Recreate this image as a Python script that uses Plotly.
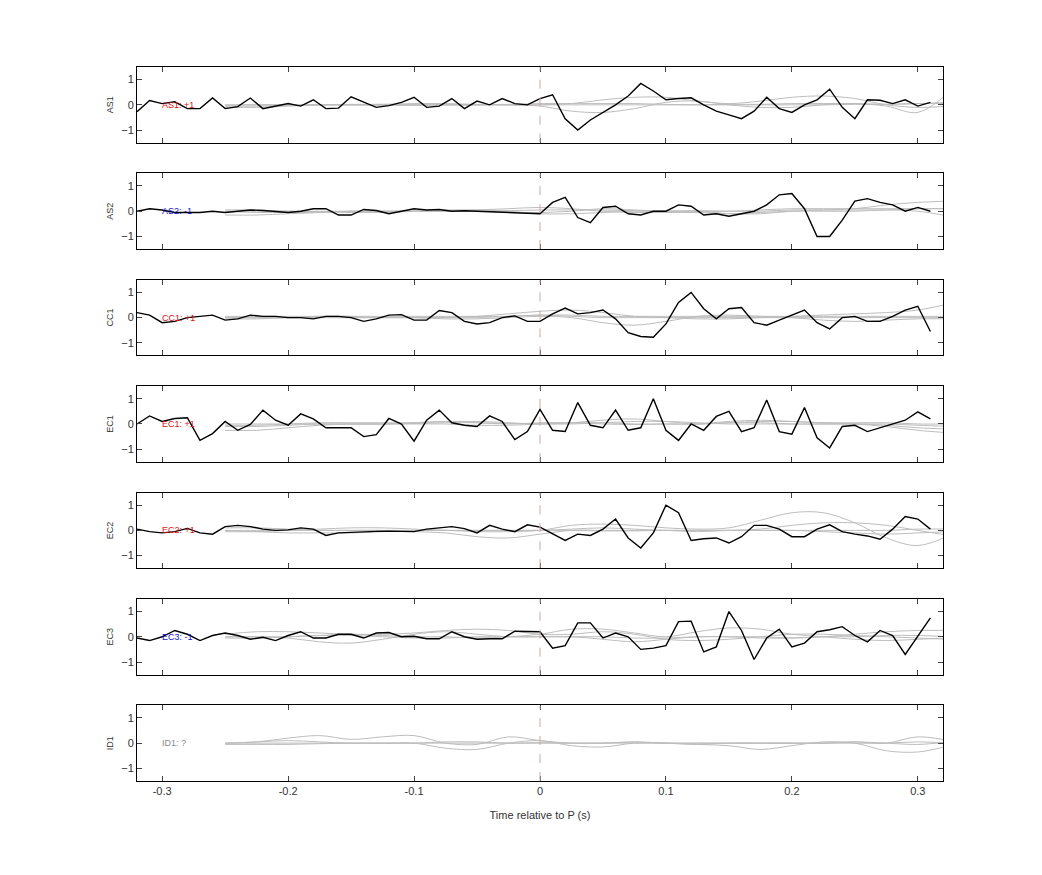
import plotly.graph_objects as go
from plotly.subplots import make_subplots

channels = ["AS1", "AS2", "CC1", "EC1", "EC2", "EC3", "ID1"]
labels = ["AS1: +1", "AS2: -1", "CC1: +1", "EC1: +1", "EC2: +1", "EC3: -1", "ID1: ?"]
label_colors = ["#dd1111", "#1111cc", "#dd1111", "#dd1111", "#dd1111", "#1111cc", "#888888"]

t_black = [round(-0.32 + 0.01 * i, 2) for i in range(64)]

black = {
    "AS1": [-0.27, 0.17, 0.05, 0.12, -0.15, -0.15, 0.27, -0.15, -0.07, 0.27, -0.15, -0.05, 0.05, -0.05, 0.2, -0.15,
            -0.13, 0.32, 0.1, -0.1, -0.03, 0.1, 0.3, -0.1, -0.05, 0.25, -0.15, 0.15, 0.0, 0.25, 0.05, 0.0,
            0.25, 0.4, -0.55, -1.0, -0.6, -0.3, 0.0, 0.35, 0.85, 0.55, 0.2, 0.25, 0.28, 0.0, -0.25, -0.4,
            -0.55, -0.25, 0.3, -0.15, -0.3, 0.0, 0.2, 0.62, -0.1, -0.55, 0.2, 0.18, 0.05, 0.2, -0.05, 0.1],
    "AS2": [0.0, 0.1, 0.05, -0.05, -0.05, -0.05, 0.0, -0.05, 0.0, 0.05, 0.03, 0.0, -0.05, 0.0, 0.1, 0.1,
            -0.15, -0.15, 0.07, 0.03, -0.1, 0.0, 0.1, 0.05, 0.07, 0.0, 0.02, 0.0, -0.02, -0.05, -0.05, -0.1,
            -0.1, 0.35, 0.55, -0.25, -0.45, 0.15, 0.2, -0.1, -0.15, 0.0, 0.0, 0.25, 0.2, -0.15, -0.1, -0.2,
            -0.1, 0.0, 0.25, 0.65, 0.7, 0.1, -1.0, -1.0, -0.35, 0.4, 0.5, 0.35, 0.25, 0.0, 0.15, 0.0],
    "CC1": [0.2, 0.1, -0.2, -0.15, 0.0, 0.05, 0.1, -0.1, -0.05, 0.1, 0.05, 0.05, 0.0, 0.0, -0.05, 0.05,
            0.05, 0.0, -0.15, -0.05, 0.1, 0.12, -0.1, -0.1, 0.28, 0.2, -0.15, -0.25, -0.2, 0.0, 0.07, -0.15,
            -0.15, 0.15, 0.38, 0.15, 0.2, 0.3, -0.05, -0.6, -0.75, -0.78, -0.25, 0.6, 1.0, 0.35, -0.05, 0.35,
            0.4, -0.2, -0.3, -0.1, 0.1, 0.3, -0.2, -0.45, 0.0, 0.05, -0.15, -0.15, 0.05, 0.3, 0.45, -0.55],
    "EC1": [0.0, 0.32, 0.1, 0.22, 0.25, -0.65, -0.38, 0.1, -0.25, -0.02, 0.55, 0.15, -0.05, 0.4, 0.2, -0.15,
            -0.15, -0.15, -0.5, -0.42, 0.22, 0.0, -0.68, 0.15, 0.55, 0.05, -0.05, -0.1, 0.32, 0.1, -0.62, -0.3,
            0.58, -0.25, -0.3, 0.85, -0.05, -0.15, 0.55, -0.25, -0.15, 1.0, -0.25, -0.65, 0.0, -0.25, 0.3, 0.5,
            -0.3, -0.15, 0.95, -0.3, -0.4, 0.65, -0.55, -0.95, -0.1, -0.05, -0.3, -0.15, 0.0, 0.15, 0.48, 0.2],
    "EC2": [0.05, -0.05, -0.1, -0.05, 0.08, -0.1, -0.15, 0.15, 0.2, 0.15, 0.05, 0.0, 0.02, 0.1, 0.05, -0.2,
            -0.1, -0.07, -0.05, -0.04, -0.03, -0.05, -0.05, 0.05, 0.1, 0.15, 0.07, -0.1, 0.2, 0.05, -0.05, 0.22,
            0.13, -0.15, -0.4, -0.15, -0.2, 0.05, 0.45, -0.3, -0.7, -0.1, 1.0, 0.7, -0.4, -0.33, -0.3, -0.5,
            -0.25, 0.2, 0.2, 0.05, -0.25, -0.25, 0.05, 0.22, -0.05, -0.15, -0.22, -0.35, 0.05, 0.55, 0.45, 0.05],
    "EC3": [-0.05, -0.15, 0.0, 0.25, 0.1, -0.15, 0.05, 0.15, 0.05, -0.1, -0.02, -0.15, 0.05, 0.2, -0.05, -0.05,
            0.1, 0.1, -0.05, 0.15, 0.17, 0.0, 0.02, -0.08, -0.08, 0.2, 0.0, -0.1, -0.08, -0.08, 0.22, 0.22,
            0.2, -0.45, -0.35, 0.55, 0.55, -0.05, 0.15, 0.0, -0.5, -0.45, -0.35, 0.6, 0.62, -0.6, -0.4, 1.0,
            0.25, -0.9, -0.05, 0.3, -0.4, -0.25, 0.2, 0.28, 0.4, 0.05, -0.2, 0.25, 0.05, -0.7, 0.0, 0.75],
}

t_grey = [-0.25, -0.225, -0.2, -0.175, -0.15, -0.125, -0.1, -0.075, -0.05, -0.025, 0.0, 0.025,
          0.05, 0.075, 0.1, 0.125, 0.15, 0.175, 0.2, 0.225, 0.25, 0.275, 0.3, 0.325]

grey = {
    "AS1": [
        [0.0, 0.0, 0.0, 0.0, 0.02, 0.02, 0.0, 0.0, 0.0, 0.02, 0.05, 0.05, 0.05, 0.05, 0.02, 0.0, 0.02, 0.02, 0.05, 0.05, 0.05, 0.02, 0.05, 0.05],
        [-0.05, -0.05, -0.02, 0.0, 0.0, 0.0, 0.0, 0.0, 0.0, 0.0, -0.05, -0.25, -0.3, -0.15, 0.1, 0.15, 0.0, -0.1, -0.1, 0.0, 0.05, -0.05, -0.3, 0.5],
        [-0.02, 0.0, 0.0, 0.0, 0.0, 0.02, 0.05, 0.05, 0.02, 0.0, 0.0, 0.05, 0.2, 0.3, 0.3, 0.15, 0.05, 0.15, 0.3, 0.35, 0.25, 0.0, -0.1, -0.05],
        [-0.1, -0.1, -0.05, 0.0, 0.0, -0.02, -0.02, 0.0, 0.0, 0.0, 0.0, 0.0, 0.0, 0.0, 0.0, 0.0, 0.0, 0.0, 0.0, 0.0, 0.02, 0.02, 0.05, 0.1],
    ],
    "AS2": [
        [0.0, -0.05, -0.05, -0.05, 0.0, 0.0, 0.0, 0.0, 0.0, 0.02, 0.05, 0.05, 0.05, 0.02, 0.0, 0.0, 0.0, 0.05, 0.1, 0.1, 0.1, 0.1, 0.1, 0.1],
        [-0.15, -0.15, -0.1, -0.05, 0.0, 0.0, 0.0, 0.0, 0.05, 0.1, 0.15, 0.1, 0.0, -0.05, -0.05, -0.05, -0.1, -0.05, 0.0, 0.05, 0.1, 0.25, 0.35, 0.4],
        [0.0, 0.0, 0.0, 0.0, 0.0, 0.0, 0.0, 0.0, 0.0, -0.05, -0.05, 0.0, 0.1, 0.05, 0.0, 0.0, -0.1, -0.1, 0.0, 0.0, 0.0, 0.05, 0.0, -0.2],
        [0.05, 0.05, 0.0, -0.02, -0.05, -0.05, 0.0, 0.05, 0.05, 0.0, -0.1, -0.1, -0.05, 0.0, 0.0, 0.02, 0.0, 0.0, 0.05, 0.05, 0.05, 0.05, 0.1, 0.1],
    ],
    "CC1": [
        [0.0, 0.0, 0.0, 0.0, 0.0, 0.0, 0.0, 0.0, 0.0, 0.05, 0.1, 0.05, 0.0, 0.0, 0.0, 0.0, 0.0, 0.0, 0.0, 0.0, 0.0, 0.0, 0.0, 0.0],
        [-0.05, -0.05, 0.0, 0.05, 0.05, 0.0, 0.0, 0.0, 0.05, 0.15, 0.25, 0.3, 0.2, 0.05, 0.0, -0.05, -0.05, 0.0, 0.05, 0.1, 0.15, 0.2, 0.3, 0.55],
        [0.0, 0.0, 0.0, 0.0, 0.0, 0.0, 0.0, -0.05, -0.05, 0.0, 0.05, 0.0, -0.2, -0.3, -0.15, 0.05, 0.1, 0.05, 0.0, -0.1, -0.15, -0.1, -0.05, -0.05],
        [0.05, 0.05, 0.05, 0.05, 0.05, 0.05, 0.05, 0.05, 0.05, 0.05, 0.1, 0.1, 0.05, 0.05, 0.05, 0.05, 0.05, 0.05, 0.05, 0.05, 0.05, 0.05, 0.05, 0.05],
    ],
    "EC1": [
        [-0.25, -0.25, -0.15, -0.05, 0.0, 0.0, 0.02, 0.05, 0.05, 0.02, 0.0, 0.0, 0.05, 0.1, 0.1, 0.05, 0.0, 0.0, 0.0, 0.0, 0.0, 0.0, -0.05, -0.1],
        [-0.05, -0.05, 0.0, 0.05, 0.05, 0.05, 0.05, 0.1, 0.1, 0.05, 0.0, 0.05, 0.15, 0.2, 0.1, 0.0, 0.05, 0.1, 0.1, 0.05, 0.0, -0.1, -0.25, -0.35],
        [0.0, 0.0, 0.0, 0.0, 0.0, 0.0, 0.0, 0.0, -0.05, -0.05, 0.0, 0.05, 0.05, 0.0, 0.0, 0.0, 0.05, 0.05, 0.0, 0.0, 0.0, -0.05, -0.15, -0.2],
        [-0.1, -0.1, -0.05, 0.0, 0.0, 0.0, 0.05, 0.1, 0.05, 0.0, 0.05, 0.05, 0.0, -0.02, 0.0, 0.0, 0.1, 0.15, 0.1, 0.05, 0.05, 0.05, 0.0, 0.0],
    ],
    "EC2": [
        [0.0, -0.05, -0.1, -0.1, -0.1, -0.05, 0.0, 0.0, -0.05, -0.05, 0.0, 0.2, 0.25, 0.2, 0.1, 0.05, 0.1, 0.4, 0.7, 0.7, 0.3, -0.3, -0.6, -0.2],
        [0.1, 0.1, 0.05, 0.0, 0.0, 0.0, -0.05, -0.1, -0.25, -0.3, -0.15, 0.0, 0.0, 0.0, 0.0, -0.05, 0.0, 0.05, 0.2, 0.3, 0.3, 0.2, 0.0, -0.2],
        [0.0, 0.0, 0.0, 0.0, 0.0, 0.0, 0.0, 0.0, 0.0, 0.0, 0.0, 0.05, 0.1, 0.05, 0.0, 0.0, 0.0, 0.0, 0.0, 0.0, 0.0, 0.0, 0.05, 0.05],
        [-0.05, -0.05, 0.0, 0.05, 0.1, 0.1, 0.05, 0.0, 0.0, 0.0, 0.0, 0.0, -0.02, -0.02, 0.0, 0.0, 0.0, 0.0, 0.0, -0.05, -0.1, -0.15, -0.1, -0.05],
    ],
    "EC3": [
        [0.1, 0.2, 0.2, 0.15, 0.1, 0.1, 0.15, 0.25, 0.3, 0.25, 0.1, 0.1, 0.2, 0.1, -0.1, -0.15, -0.1, 0.0, 0.1, 0.1, 0.05, 0.0, -0.05, -0.1],
        [0.0, 0.0, 0.0, 0.05, 0.1, 0.05, 0.0, 0.0, -0.05, 0.0, 0.1, 0.3, 0.3, 0.15, 0.0, 0.2, 0.35, 0.3, 0.1, 0.0, -0.1, -0.15, -0.1, -0.05],
        [0.0, 0.0, -0.05, -0.2, -0.25, -0.1, 0.1, 0.2, 0.1, 0.0, 0.0, 0.0, -0.1, -0.2, -0.1, 0.0, 0.0, 0.0, -0.05, 0.0, 0.1, 0.2, 0.25, 0.25],
        [-0.05, -0.05, 0.0, 0.05, 0.05, 0.0, -0.05, -0.05, 0.0, 0.0, 0.0, 0.0, 0.0, -0.05, -0.05, 0.0, 0.0, -0.05, -0.05, 0.0, 0.0, 0.05, 0.05, 0.0],
    ],
    "ID1": [
        [0.0, 0.05, 0.2, 0.3, 0.15, 0.25, 0.3, 0.0, -0.05, 0.25, 0.1, 0.0, 0.0, 0.05, 0.0, 0.0, 0.0, 0.0, 0.0, 0.0, 0.05, 0.0, 0.25, 0.1],
        [0.0, 0.0, 0.0, 0.0, 0.0, 0.0, 0.0, -0.2, -0.25, 0.0, 0.1, -0.1, -0.15, 0.0, 0.0, -0.05, -0.1, -0.25, -0.1, 0.05, 0.0, -0.3, -0.35, -0.1],
        [-0.05, -0.05, -0.05, -0.02, 0.0, 0.0, 0.0, 0.0, 0.0, 0.0, 0.02, 0.0, 0.0, 0.0, 0.0, 0.0, 0.0, 0.0, 0.0, 0.0, 0.05, 0.0, -0.05, 0.05],
        [0.0, 0.05, 0.1, 0.05, 0.0, 0.0, 0.0, 0.05, 0.05, 0.0, 0.0, 0.0, 0.0, 0.05, 0.0, -0.05, 0.0, 0.0, 0.0, 0.0, 0.0, 0.0, 0.05, 0.0],
    ],
}

n = len(channels)
fig = make_subplots(rows=n, cols=1, shared_xaxes=False, vertical_spacing=0.043)

for i, ch in enumerate(channels, start=1):
    for g in grey[ch]:
        fig.add_trace(go.Scatter(x=t_grey, y=g, mode="lines", line={"color": "#bdbdbd", "width": 1, "shape": "spline"},
                                 hoverinfo="skip", showlegend=False), row=i, col=1)
    if ch in black:
        fig.add_trace(go.Scatter(x=t_black, y=black[ch], mode="lines", line={"color": "black", "width": 1.4},
                                 showlegend=False), row=i, col=1)
    fig.add_shape(type="line", x0=0, x1=0, y0=-1.5, y1=1.5, line={"color": "#c8a8a8", "width": 1, "dash": "dash"},
                  row=i, col=1)
    fig.add_annotation(x=-0.302, y=0, text=labels[i - 1], showarrow=False, xanchor="left",
                       font={"size": 9, "color": label_colors[i - 1]}, row=i, col=1)
    fig.update_xaxes(range=[-0.32, 0.32], tickvals=[-0.3, -0.2, -0.1, 0, 0.1, 0.2, 0.3],
                     ticktext=["-0.3", "-0.2", "-0.1", "0", "0.1", "0.2", "0.3"],
                     showticklabels=(i == n), ticks="inside", ticklen=5, mirror="ticks",
                     showline=True, linecolor="black", linewidth=1, showgrid=False, zeroline=False,
                     row=i, col=1)
    fig.update_yaxes(range=[-1.5, 1.5], tickvals=[-1, 0, 1], ticks="inside", ticklen=5, mirror="ticks",
                     showline=True, linecolor="black", linewidth=1, showgrid=False, zeroline=False,
                     title={"text": ch, "font": {"size": 9}, "standoff": 6}, row=i, col=1)

fig.update_xaxes(title={"text": "Time relative to P (s)", "font": {"size": 11}}, row=n, col=1)
fig.update_layout(
    width=1042, height=875,
    margin={"l": 129, "r": 107, "t": 59, "b": 102},
    plot_bgcolor="white", paper_bgcolor="white",
    font={"family": "Liberation Sans, Arial, sans-serif", "size": 11, "color": "#333333"},
)
fig.write_html("out.html")
